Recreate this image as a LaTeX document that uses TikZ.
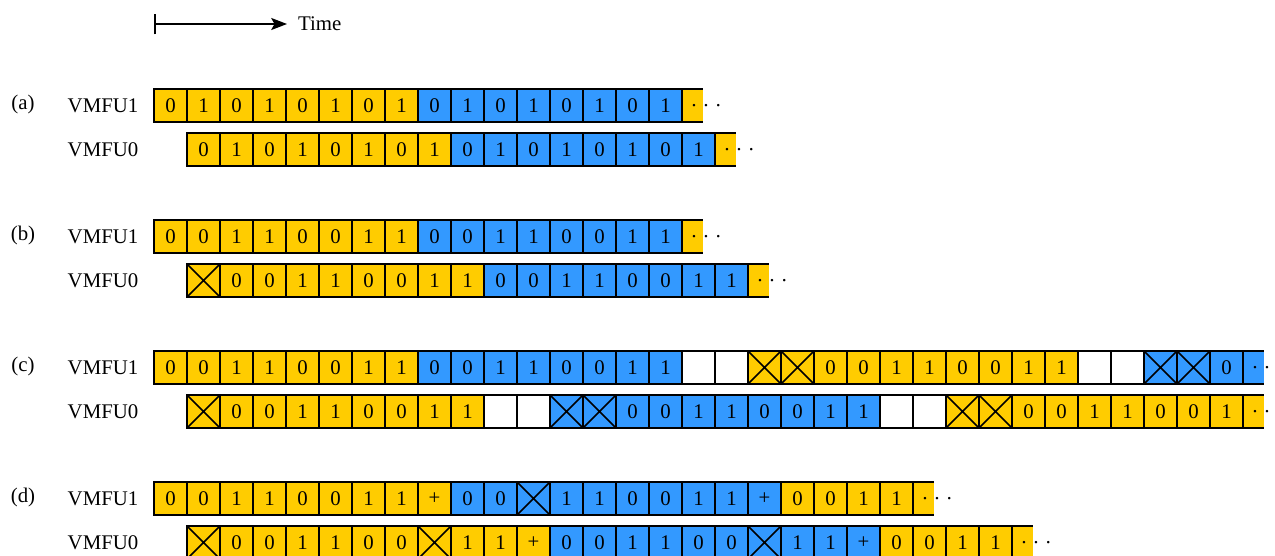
\documentclass[tikz,border=0pt]{standalone}
\usepackage{fontspec}
\setmainfont{Liberation Serif}
\usepackage{tikz}
\usetikzlibrary{positioning, arrows.meta}
\definecolor{bityellow}{HTML}{FFCC00}
\definecolor{bitblue}{HTML}{3399FF}

\begin{document}
\begin{tikzpicture}[
  x=0.48pt, y=-0.48pt,
  line width=0.7pt,
  font=\fontsize{10}{12}\selectfont,
  cell/.style={
    rectangle, draw, fill=#1, minimum size=15.84pt,
    inner sep=0pt, outer sep=0pt
  },
  cell/.default=white,
  ybit/.style={cell=bityellow},
  bbit/.style={cell=bitblue},
  idle/.style={cell=white},
  crossed/.style={path picture={
    \draw (path picture bounding box.north west) -- (path picture bounding box.south east)
          (path picture bounding box.south west) -- (path picture bounding box.north east);}},
  ykill/.style={ybit, crossed},
  bkill/.style={bbit, crossed},
  tail/.style={
    rectangle, fill=#1, minimum width=10.08pt, minimum height=15.84pt,
    inner sep=0pt, outer sep=0pt, xshift=-2.88pt,
    append after command={
      (\tikzlastnode.north west) edge (\tikzlastnode.north east)
                                 edge (\tikzlastnode.south west)
      (\tikzlastnode.south west) edge (\tikzlastnode.south east)},
    label={[anchor=base west, inner sep=0pt, xshift=3.75pt, yshift=-3.4pt]west:%
      \textperiodcentered\kern2.5pt\textperiodcentered\kern2.5pt\textperiodcentered}
  },
  ytail/.style={tail=bityellow},
  btail/.style={tail=bitblue},
  rowname/.style={anchor=west, inner sep=0pt},
]
\useasboundingbox (0,0) rectangle (1275,556);

% --- Time axis ---
\coordinate (t0) at (154,24);
\node[anchor=west, inner xsep=5pt, inner ysep=0pt] (time) at (287,24) {Time};
\draw[line width=0.8pt, {Bar[width=10pt]}-{Stealth[length=7.6pt, width=5.8pt, inset=1.6pt]}]
  (t0) -- (time);

% --- (a) ---
\node (lab-a) at (23,104) {(a)};
\node[rowname] (a1) at (67,105.5) {VMFU1};
\node[rowname] (a0) at (67,149.5) {VMFU0};
\foreach \v/\s [count=\i from 0] in {0/ybit,1/ybit,0/ybit,1/ybit,0/ybit,1/ybit,0/ybit,1/ybit,
    0/bbit,1/bbit,0/bbit,1/bbit,0/bbit,1/bbit,0/bbit,1/bbit,{}/ytail}
  \node[style=\s] (a1-\i) at (170.5+33*\i,105.5) {\v};
\foreach \v/\s [count=\i from 0] in {0/ybit,1/ybit,0/ybit,1/ybit,0/ybit,1/ybit,0/ybit,1/ybit,
    0/bbit,1/bbit,0/bbit,1/bbit,0/bbit,1/bbit,0/bbit,1/bbit,{}/ytail}
  \node[style=\s] (a0-\i) at (203.5+33*\i,149.5) {\v};

% --- (b) ---
\node (lab-b) at (23,235) {(b)};
\node[rowname] (b1) at (67,236.5) {VMFU1};
\node[rowname] (b0) at (67,280.5) {VMFU0};
\foreach \v/\s [count=\i from 0] in {0/ybit,0/ybit,1/ybit,1/ybit,0/ybit,0/ybit,1/ybit,1/ybit,
    0/bbit,0/bbit,1/bbit,1/bbit,0/bbit,0/bbit,1/bbit,1/bbit,{}/ytail}
  \node[style=\s] (b1-\i) at (170.5+33*\i,236.5) {\v};
\foreach \v/\s [count=\i from 0] in {{}/ykill,0/ybit,0/ybit,1/ybit,1/ybit,0/ybit,0/ybit,1/ybit,1/ybit,
    0/bbit,0/bbit,1/bbit,1/bbit,0/bbit,0/bbit,1/bbit,1/bbit,{}/ytail}
  \node[style=\s] (b0-\i) at (203.5+33*\i,280.5) {\v};

% --- (c) ---
\node (lab-c) at (23,366) {(c)};
\node[rowname] (c1) at (67,367.5) {VMFU1};
\node[rowname] (c0) at (67,411.5) {VMFU0};
\foreach \v/\s [count=\i from 0] in {0/ybit,0/ybit,1/ybit,1/ybit,0/ybit,0/ybit,1/ybit,1/ybit,
    0/bbit,0/bbit,1/bbit,1/bbit,0/bbit,0/bbit,1/bbit,1/bbit,{}/idle,{}/idle,{}/ykill,{}/ykill,
    0/ybit,0/ybit,1/ybit,1/ybit,0/ybit,0/ybit,1/ybit,1/ybit,{}/idle,{}/idle,{}/bkill,{}/bkill,
    0/bbit,{}/btail}
  \node[style=\s] (c1-\i) at (170.5+33*\i,367.5) {\v};
\foreach \v/\s [count=\i from 0] in {{}/ykill,0/ybit,0/ybit,1/ybit,1/ybit,0/ybit,0/ybit,1/ybit,1/ybit,
    {}/idle,{}/idle,{}/bkill,{}/bkill,0/bbit,0/bbit,1/bbit,1/bbit,0/bbit,0/bbit,1/bbit,1/bbit,
    {}/idle,{}/idle,{}/ykill,{}/ykill,0/ybit,0/ybit,1/ybit,1/ybit,0/ybit,0/ybit,1/ybit,{}/ytail}
  \node[style=\s] (c0-\i) at (203.5+33*\i,411.5) {\v};

% --- (d) ---
\node (lab-d) at (23,497) {(d)};
\node[rowname] (d1) at (67,498.5) {VMFU1};
\node[rowname] (d0) at (67,542.5) {VMFU0};
\foreach \v/\s [count=\i from 0] in {0/ybit,0/ybit,1/ybit,1/ybit,0/ybit,0/ybit,1/ybit,1/ybit,+/ybit,
    0/bbit,0/bbit,{}/bkill,1/bbit,1/bbit,0/bbit,0/bbit,1/bbit,1/bbit,+/bbit,
    0/ybit,0/ybit,1/ybit,1/ybit,{}/ytail}
  \node[style=\s] (d1-\i) at (170.5+33*\i,498.5) {\v};
\foreach \v/\s [count=\i from 0] in {{}/ykill,0/ybit,0/ybit,1/ybit,1/ybit,0/ybit,0/ybit,{}/ykill,
    1/ybit,1/ybit,+/ybit,0/bbit,0/bbit,1/bbit,1/bbit,0/bbit,0/bbit,{}/bkill,1/bbit,1/bbit,+/bbit,
    0/ybit,0/ybit,1/ybit,1/ybit,{}/ytail}
  \node[style=\s] (d0-\i) at (203.5+33*\i,542.5) {\v};

\end{tikzpicture}
\end{document}
